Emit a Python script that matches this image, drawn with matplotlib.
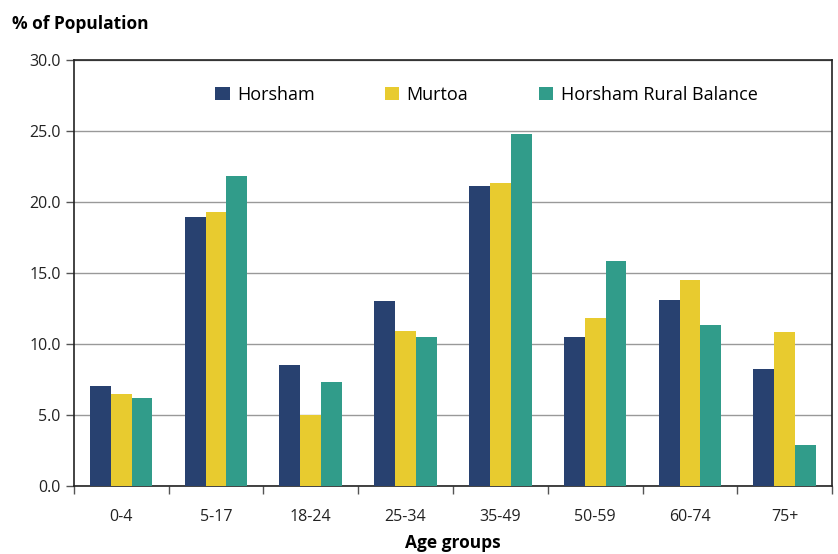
import matplotlib.pyplot as plt
import numpy as np

plt.rcParams['font.family'] = ['Open Sans', 'DejaVu Sans']

# Data
age_groups = ['0-4', '5-17', '18-24', '25-34', '35-49', '50-59', '60-74', '75+']
horsham = [7.0, 18.9, 8.5, 13.0, 21.1, 10.5, 13.1, 8.2]
murtoa = [6.5, 19.3, 5.0, 10.9, 21.3, 11.8, 14.5, 10.8]
rural_balance = [6.2, 21.8, 7.3, 10.5, 24.8, 15.8, 11.3, 2.9]
series_names = ['Horsham', 'Murtoa', 'Horsham Rural Balance']
colors = ['#284170', '#e8cb2f', '#319c8a']

fig = plt.figure(figsize=(8.38, 5.54), dpi=100)
ax = fig.add_axes([0.088, 0.123, 0.905, 0.769])

x = np.arange(len(age_groups))
w = 0.22
for i, (vals, name, c) in enumerate(zip([horsham, murtoa, rural_balance], series_names, colors)):
    ax.bar(x + (i - 1) * w, vals, width=w, color=c, label=name, zorder=3)

ax.set_xlim(-0.5, len(age_groups) - 0.5)
ax.set_ylim(0, 30)
ax.set_yticks(np.arange(0, 30.1, 5))
ax.set_yticklabels([f'{v:.1f}' for v in np.arange(0, 30.1, 5)], fontsize=11.5, color='#222222')
ax.yaxis.grid(True, color='#999999', linewidth=1, zorder=0)

# category labels centered, tick marks between categories
ax.set_xticks(x)
ax.set_xticklabels(age_groups, fontsize=11.5, color='#222222')
ax.tick_params(axis='x', length=0, pad=17)
ax.set_xticks(np.arange(-0.5, len(age_groups)), minor=True)
ax.tick_params(axis='x', which='minor', length=6, width=1, color='#555555')
ax.tick_params(axis='y', length=6, width=1, color='#555555')

for s in ax.spines.values():
    s.set_color('#222222')
    s.set_linewidth(1.2)

fig.text(0.088 + 0.905 / 2, 0.004, 'Age groups', fontsize=12.5, fontweight='bold', ha='center', va='bottom')
fig.text(0.014, 0.957, '% of Population', fontsize=12.5, fontweight='bold', ha='left', va='center')

ax.legend(loc='center', bbox_to_anchor=(0.544, 0.918), ncol=3, frameon=False,
          fontsize=13, handlelength=0.8, handleheight=0.8, handletextpad=0.4, columnspacing=3.9)

fig.savefig('out.png', dpi=100)
